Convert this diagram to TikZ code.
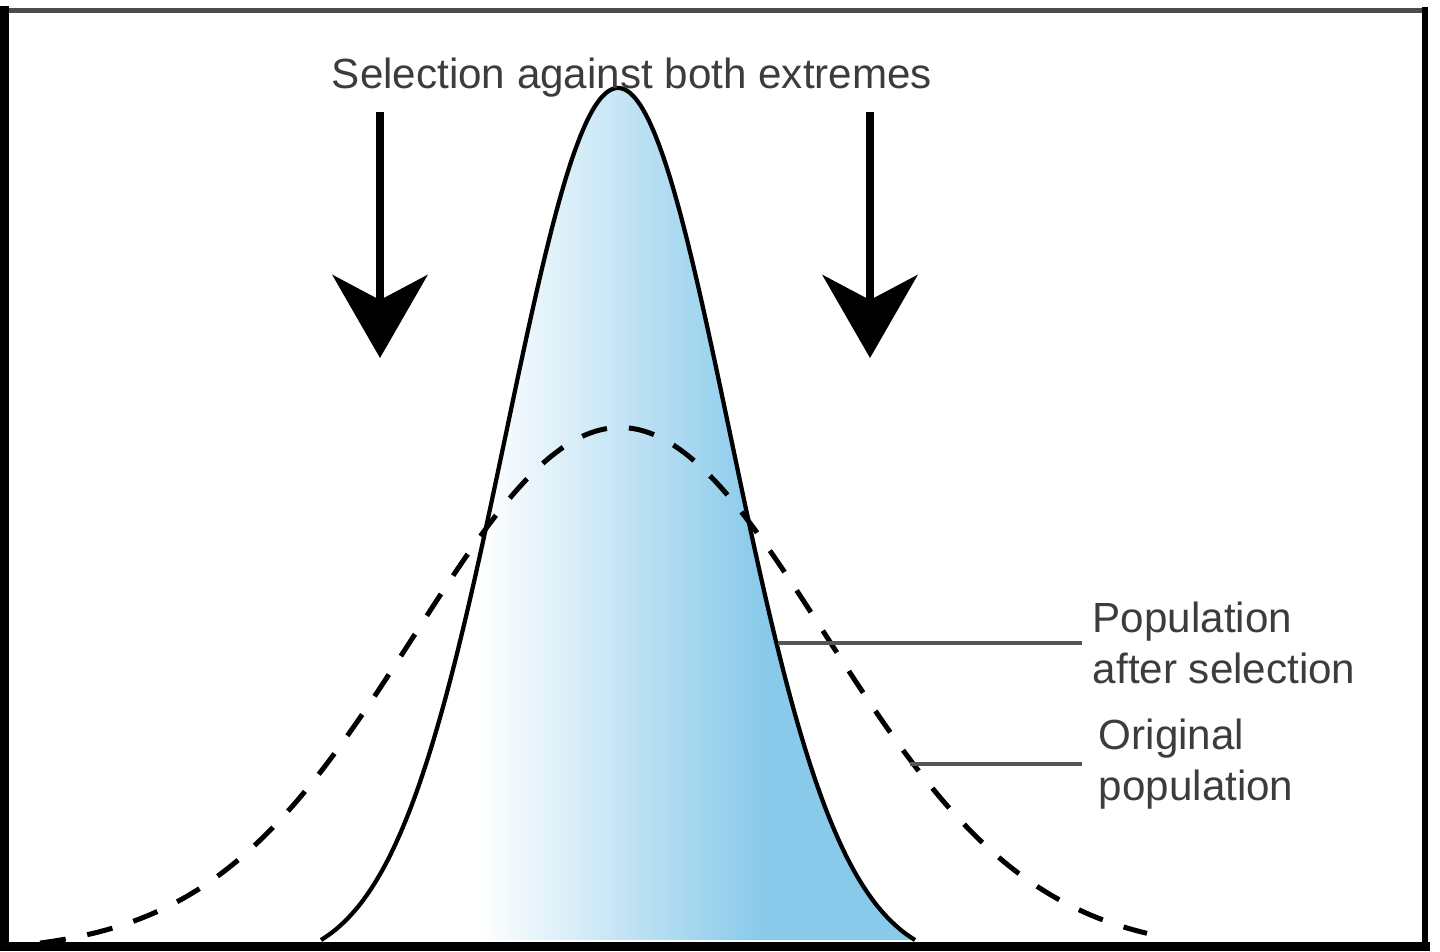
\documentclass[tikz,border=0pt]{standalone}
\usepackage{fontspec}
\setmainfont{Liberation Sans}
\usepackage{xcolor}
\definecolor{Sky Blue}{HTML}{89CAEA}
\definecolor{Label Gray}{HTML}{3C3C3C}
\definecolor{Leader Gray}{HTML}{555555}
\colorlet{cBlue}{Sky Blue}
\colorlet{cText}{Label Gray}
\colorlet{cLine}{Leader Gray}
\usepackage{tikz}
\usetikzlibrary{arrows.meta}
\tikzset{
	font = \fontsize{24}{29}\selectfont,
	frame/.style={
		line width=.18cm,
		line cap=rect
	},
	after curve/.style={
		draw=black,
		line width=.085cm
	},
	orig curve/.style={
		draw=black,
		line width=.1cm,
		dash pattern=on .52cm off .44cm
	},
	big arrow/.style={
		line width=.16cm,
		-{Stealth[length=1.66cm, width=1.9cm, inset=.5cm]}
	},
	label text/.style={
		text=cText,
		align=left,
		anchor=west,
		inner sep=.21cm
	},
	leader/.style={
		draw=cLine,
		line width=.065cm
	}
}

\begin{document}
\begin{tikzpicture}[x=.02cm, y=-.02cm]
		\useasboundingbox (0,0) rectangle (1440,951);

		\begin{scope}
			\clip plot[domain=321:915, samples=120, smooth] (\x, {940-878*(exp(-0.5*((\x-618)/112)*((\x-618)/112))-0.0297)}) -- cycle;
			\shade[left color=white, right color=cBlue] (480,0) rectangle (760,945);
			\fill[cBlue] (759,0) rectangle (930,945);
		\end{scope}
		\draw[after curve] plot[domain=321:915, samples=120, smooth]
			(\x, {940-878*(exp(-0.5*((\x-618)/112)*((\x-618)/112))-0.0297)});
		\draw[orig curve] plot[domain=40:1147, samples=160, smooth]
			(\x, {940-525*(exp(-0.5*((\x-620)/205)*((\x-620)/205))-0.024)});

		\draw[frame, draw=black!70, line width=.1cm] (0,10) -- (1425,10);
		\draw[frame] (4.5,10) -- (4.5,946);
		\draw[frame, line width=.11cm] (1425,10) -- (1425,946);
		\draw[frame] (0,946) -- (1425,946);

		\node[text=cText, anchor=base, inner sep=0pt] (title) at (632,88) {Selection against both extremes};

		\coordinate (l0) at (380,112);
		\coordinate (l1) at (380,358);
		\coordinate (r0) at (870,112);
		\coordinate (r1) at (870,358);
		\draw[big arrow] (l0) -- (l1);
		\draw[big arrow] (r0) -- (r1);

		\node[label text] (after) at (1082,643) {Population\\after selection};
		\node[label text, inner xsep=.33cm] (orig) at (1082,764) {Original\\population};
		\coordinate (afterpt) at (778,643);
		\coordinate (origpt) at (910,764);
		\draw[leader] (after.west) -- (afterpt);
		\draw[leader] (orig.west) -- (origpt);
	\end{tikzpicture}
\end{document}
